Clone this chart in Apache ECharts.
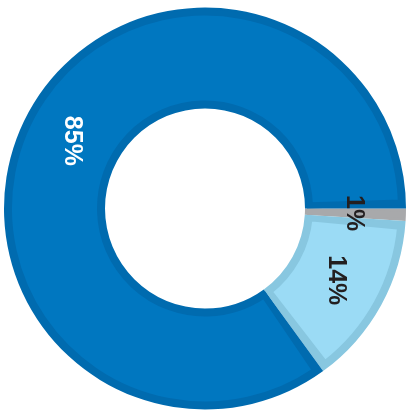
<!DOCTYPE html>
<html>
<head>
<meta charset="utf-8">
<script src="https://cdn.jsdelivr.net/npm/echarts@6/dist/echarts.min.js"></script>
<style>
  html, body { margin: 0; padding: 0; background: #ffffff; }
  #chart { width: 413px; height: 410px; }
</style>
</head>
<body>
<div id="chart"></div>
<script>
// Share of each group, in percent, clockwise from 3 o'clock
const categories = ['Other', 'Group B', 'Group A'];
const shares = [1, 14, 85];

// Face colour and edge colour for each slice
const fillColors = ['#A8A9AB', '#9BDBF5', '#0077C0'];
const edgeColors = ['#A8A9AB', '#88C7E0', '#006BAF'];
const labelColors = ['#231F20', '#231F20', '#FFFFFF'];

const chart = echarts.init(document.getElementById('chart'), null, { renderer: 'canvas' });

const center = [205, 208.5];

// Bottom ring in edge colours, full slice size
const rimData = categories.map((name, i) => ({
  name,
  value: shares[i],
  itemStyle: { color: edgeColors[i] }
}));

// Upper ring in face colours, pulled in from every edge so the rim shows as an inner border
const faceData = categories.map((name, i) => ({
  name,
  value: shares[i],
  itemStyle: { color: fillColors[i], borderColor: edgeColors[i] }
}));

// Transparent ring that only carries the value labels
const labelData = categories.map((name, i) => ({
  name,
  value: shares[i],
  label: { color: labelColors[i] }
}));

chart.setOption({
  animation: false,
  series: [
    {
      type: 'pie',
      center,
      radius: [100, 201],
      startAngle: 0,
      clockwise: true,
      silent: true,
      label: { show: false },
      labelLine: { show: false },
      itemStyle: { borderWidth: 0 },
      data: rimData
    },
    {
      type: 'pie',
      center,
      radius: [105, 196],
      startAngle: 0,
      clockwise: true,
      padAngle: 3.5,
      silent: true,
      itemStyle: { borderWidth: 6, borderJoin: 'miter' },
      label: { show: false },
      labelLine: { show: false },
      data: faceData
    },
    {
      type: 'pie',
      center,
      radius: [96, 196],
      startAngle: 0,
      clockwise: true,
      silent: true,
      z: 5,
      itemStyle: { color: 'rgba(0,0,0,0)', borderWidth: 0 },
      label: {
        show: true,
        position: 'inside',
        rotate: -90,
        formatter: '{c}%',
        fontFamily: '"Liberation Sans", Arial, sans-serif',
        fontWeight: 'bold',
        fontSize: 25
      },
      labelLine: { show: false },
      data: labelData
    }
  ]
});
</script>
</body>
</html>
